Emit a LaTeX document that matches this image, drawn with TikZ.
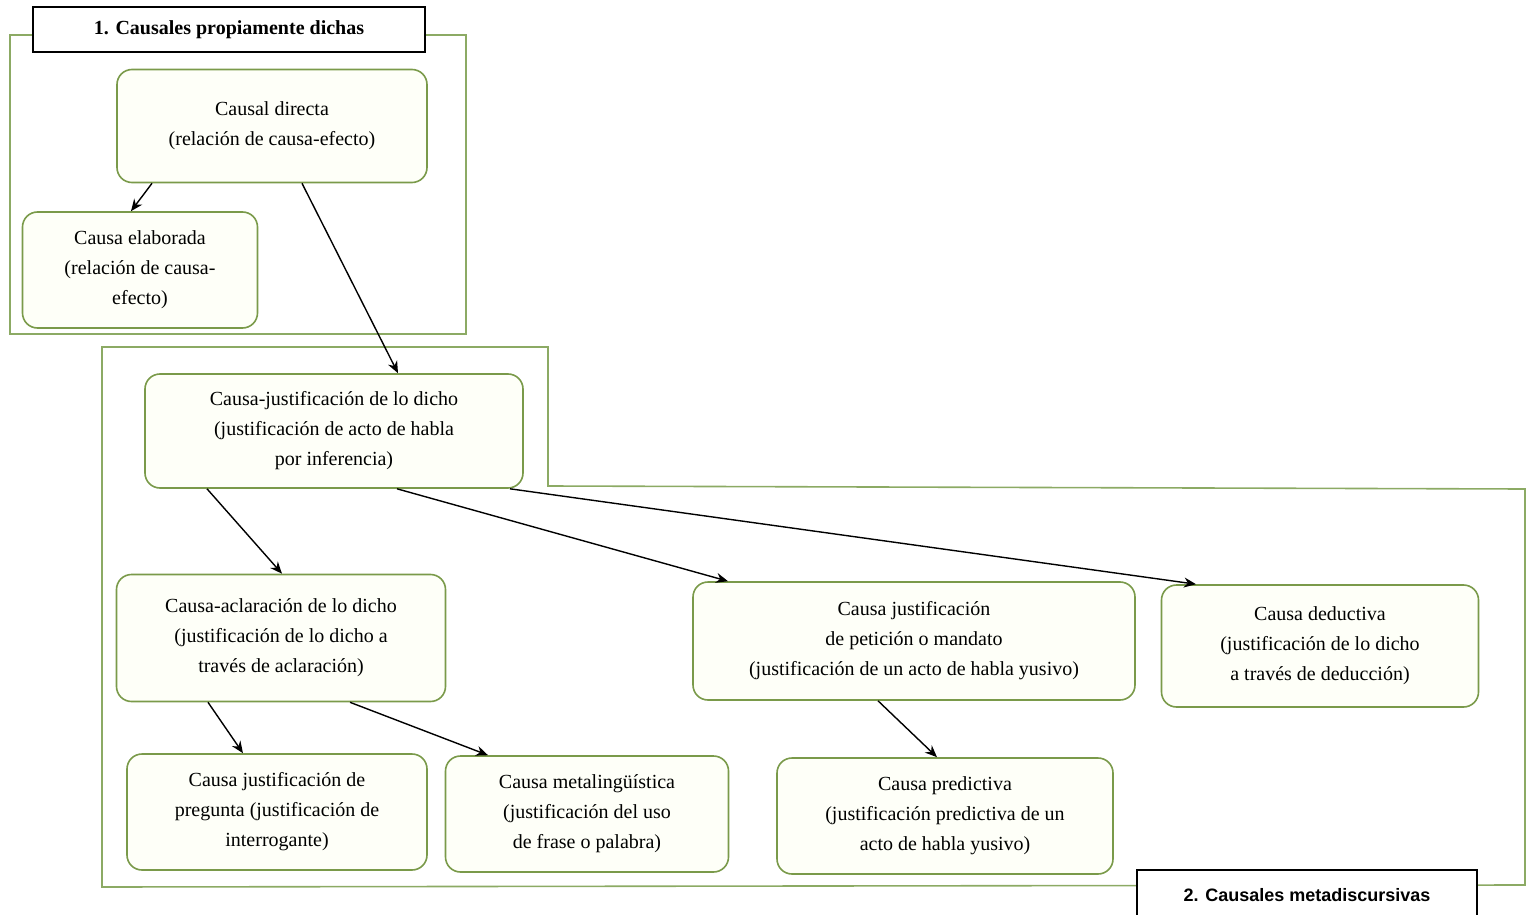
\documentclass[tikz,border=0pt]{standalone}
\usepackage{fontspec}
\newfontfamily\serifmain{Liberation Serif}
\newfontfamily\hdsans[Scale=0.9]{Liberation Sans}
\usetikzlibrary{arrows.meta}
\definecolor{nodegreen}{RGB}{122,154,74}
\definecolor{grpgreen}{RGB}{140,170,100}
\definecolor{nodefill}{RGB}{254,255,248}
\tikzset{
  cbox/.style={draw=nodegreen, line width=0.8pt, fill=nodefill, rounded corners=7.5pt,
    align=center, inner sep=2pt, font=\serifmain},
  grp/.style={draw=grpgreen, line width=0.8pt},
  hdr/.style={draw=black, line width=0.8pt, fill=white, inner sep=0pt},
  arr/.style={-{Stealth[length=6pt,width=5pt]}, line width=0.7pt, black}
}
\begin{document}
\begin{tikzpicture}[x=0.5pt,y=-0.5pt]
\useasboundingbox (0,0) rectangle (1527,915);
% group outlines
\draw[grp] (10,35) rectangle (466,334);
\draw[grp] (102,347) -- (548,347) -- (548,486) -- (1525,489) -- (1525,885) -- (102,887) -- cycle;
% headers
\node[hdr, minimum width=196pt, minimum height=22.5pt, font=\serifmain\bfseries] (h1) at (229,29.5) {1. Causales propiamente dichas};
\node[hdr, minimum width=170pt, minimum height=27pt, text depth=0pt, font=\hdsans\bfseries] (h2) at (1307,897) {\raisebox{2pt}{2. Causales metadiscursivas}};
% nodes
\node[cbox, minimum width=155pt, minimum height=56.5pt] (dir) at (272,126) {Causal directa\\[3pt](relación de causa-efecto)};
\node[cbox, minimum width=117.5pt, minimum height=58pt] (ela) at (140,270) {Causa elaborada\\[3pt](relación de causa-\\[3pt]efecto)};
\node[cbox, minimum width=189pt, minimum height=57pt] (jus) at (334,431) {Causa-justificación de lo dicho\\[3pt](justificación de acto de habla\\[3pt]por inferencia)};
\node[cbox, minimum width=164.5pt, minimum height=63.5pt] (acl) at (281,638) {Causa-aclaración de lo dicho\\[3pt](justificación de lo dicho a\\[3pt]través de aclaración)};
\node[cbox, minimum width=221pt, minimum height=59pt] (pet) at (914,641) {Causa justificación\\[3pt]de petición o mandato\\[3pt](justificación de un acto de habla yusivo)};
\node[cbox, minimum width=158.5pt, minimum height=61pt] (ded) at (1320,646) {Causa deductiva\\[3pt](justificación de lo dicho\\[3pt]a través de deducción)};
\node[cbox, minimum width=150pt, minimum height=58pt] (pre) at (277,812) {Causa justificación de\\[3pt]pregunta (justificación de\\[3pt]interrogante)};
\node[cbox, minimum width=141.5pt, minimum height=58pt] (met) at (587,814) {Causa metalingüística\\[3pt](justificación del uso\\[3pt]de frase o palabra)};
\node[cbox, minimum width=168pt, minimum height=58pt] (prd) at (945,816) {Causa predictiva\\[3pt](justificación predictiva de un\\[3pt]acto de habla yusivo)};
% arrows
\draw[arr] ([xshift=-60pt]dir.south) -- ([xshift=-4.5pt]ela.north);
\draw[arr] ([xshift=15pt]dir.south) -- ([xshift=32pt]jus.north);
\draw[arr] ([xshift=-63.5pt]jus.south) -- ([xshift=0.5pt]acl.north);
\draw[arr] ([xshift=31.5pt]jus.south) -- ([xshift=-93pt]pet.north);
\draw[arr] ([xshift=88pt]jus.south) -- ([xshift=-62pt]ded.north);
\draw[arr] ([xshift=-36.5pt]acl.south) -- ([xshift=-17pt]pre.north);
\draw[arr] ([xshift=34.5pt]acl.south) -- ([xshift=-49.5pt]met.north);
\draw[arr] ([xshift=-18pt]pet.south) -- ([xshift=-4pt]prd.north);
\end{tikzpicture}
\end{document}
